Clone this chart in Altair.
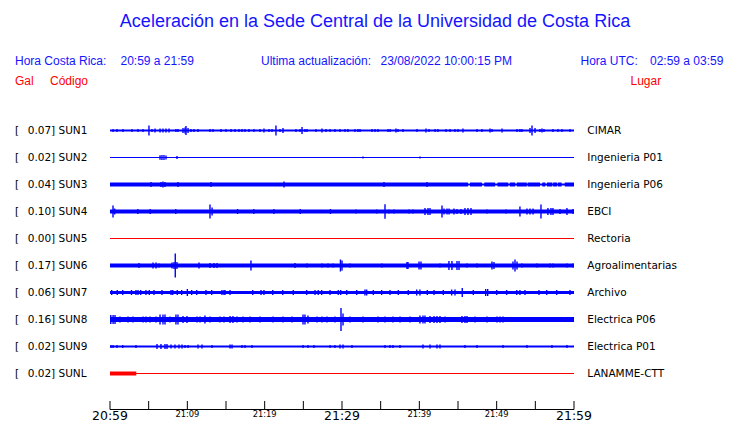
import altair as alt
import pandas as pd

# ---------------- data ----------------
stations = ["SUN1", "SUN2", "SUN3", "SUN4", "SUN5", "SUN6", "SUN7", "SUN8", "SUN9", "SUNL"]
peaks = ["0.07", "0.02", "0.04", "0.10", "0.00", "0.17", "0.06", "0.16", "0.02", "0.02"]
places = ["CIMAR", "Ingenieria P01", "Ingenieria P06", "EBCI", "Rectoria",
          "Agroalimentarias", "Archivo", "Electrica P06", "Electrica P01", "LANAMME-CTT"]
trace_color = ["blue", "blue", "blue", "blue", "red", "blue", "blue", "blue", "blue", "red"]

# background noise half-width of each trace (amplitude units)
noise = [1.0, 0.5, 1.0, 2.0, 0.5, 2.0, 1.5, 2.5, 1.0, 0.5]

# stronger-noise segments: (station, start minute, end minute, half-width)
segments = [
    ("SUN3", 0.0, 46.3, 2.0), ("SUN3", 46.55, 48.1, 2.0), ("SUN3", 48.4, 49.8, 2.0),
    ("SUN3", 50.1, 51.5, 2.0), ("SUN3", 51.7, 52.4, 2.0), ("SUN3", 52.6, 53.9, 2.0),
    ("SUN3", 54.0, 55.6, 2.0), ("SUN3", 55.9, 56.3, 2.0), ("SUN3", 56.5, 57.2, 2.0),
    ("SUN3", 57.3, 57.8, 2.0), ("SUN3", 57.9, 58.4, 2.0), ("SUN3", 58.8, 60.0, 2.0),
    ("SUNL", 0.0, 3.4, 2.0),
]

# peaks in each trace: minute after 20:59 and half amplitude
ev_sun1 = [(0.39, 1.5), (0.91, 1.5), (1.68, 1.5), (2.84, 1.5), (3.62, 1.5), (4.27, 1.5), (5.04, 5),
           (5.43, 1.5), (5.82, 2), (6.47, 2), (6.85, 2), (7.24, 2), (7.63, 2), (8.53, 1.5), (8.79, 1.5),
           (9.44, 2.5), (9.70, 3), (9.83, 4.5), (10.09, 2.5), (10.47, 1.5), (10.86, 1.5), (11.38, 1.5),
           (12.93, 1.5), (13.32, 1.5), (14.35, 1.5), (15.00, 1.5), (15.65, 1.5), (16.16, 1.5),
           (16.68, 1.5), (17.07, 1.5), (17.46, 1.5), (17.97, 1.5), (18.62, 1.5), (19.40, 1.5),
           (19.91, 2), (20.56, 1.5), (20.95, 1.5), (21.46, 5), (21.98, 1.5), (22.37, 2.5),
           (24.05, 1.5), (24.57, 1.5), (24.83, 3.5), (25.21, 1.5), (25.47, 1.5), (26.64, 1.5),
           (27.41, 2), (27.93, 1.5), (28.45, 1.5), (29.09, 1.5), (29.74, 1.5), (30.39, 1.5),
           (30.77, 1.5), (31.68, 1.5), (32.07, 1.5), (32.33, 1.5), (33.88, 1.5), (34.27, 1.5),
           (34.66, 1.5), (35.95, 1.5), (36.21, 1.5), (36.98, 2), (37.24, 1.5), (37.89, 1.5),
           (39.70, 1.5), (40.86, 2), (41.25, 1.5), (42.03, 1.5), (42.41, 1.5), (43.45, 1.5),
           (43.97, 1.5), (44.61, 1.5), (45.00, 1.5), (45.64, 2), (47.46, 1.5), (48.10, 1.5),
           (49.14, 2), (49.39, 1.5), (50.69, 2), (52.63, 1.5), (53.01, 1.5), (53.27, 1.5),
           (54.31, 2.5), (54.57, 5), (54.96, 2.5), (55.60, 1.5), (55.86, 2), (56.12, 1.5),
           (57.28, 1.5), (57.93, 1.5), (58.45, 1.5), (59.48, 1.5)]
ev_sun2 = [(6.47, 2.3), (6.72, 2.5), (6.98, 2.5), (7.24, 2), (8.66, 1.5), (32.71, 1), (40.08, 1)]
ev_sun3 = [(5.30, 2.5), (6.59, 2.5), (6.85, 3), (7.11, 2.5), (8.79, 2.5), (13.06, 2.5),
           (22.50, 3), (35.43, 2.5), (40.99, 2.5)]
ev_sun4 = [(0.39, 6), (0.6, 3), (3.6, 2.5), (5.2, 2.5), (8.5, 2.5), (12.93, 7), (13.2, 4),
           (16.5, 2.5), (18.6, 2.5), (21.2, 2.5), (24.6, 2.5), (28.5, 2.5), (31.8, 2), (34.5, 2),
           (35.56, 7.3), (36.08, 2), (36.73, 2), (38.66, 2), (39.18, 2), (40.73, 3.5), (41.12, 3.5),
           (41.38, 3.5), (42.93, 6), (43.19, 3), (43.58, 3), (43.84, 3), (44.48, 3), (44.87, 2.5),
           (45.39, 2.5), (45.90, 3.5), (46.29, 3.5), (46.68, 3.5), (48.75, 2), (51.20, 2),
           (53.01, 5), (53.92, 3), (54.31, 3), (54.70, 3), (55.73, 7), (56.63, 3.5), (57.02, 3.5),
           (57.28, 3.5), (58.19, 2.5), (59.09, 3.5), (59.87, 2.5)]
ev_sun5 = []
ev_sun6 = [(3.75, 2.5), (5.56, 3), (5.95, 3), (6.34, 2), (8.02, 3), (8.28, 3.5), (8.44, 12),
           (8.66, 3.5), (11.51, 3), (12.93, 2.5), (13.45, 2.5), (13.84, 2.5), (18.23, 5),
           (23.92, 2.5), (25.47, 2), (27.41, 2), (28.19, 2), (28.84, 2), (29.80, 6), (30.0, 5),
           (31.03, 2), (35.17, 2), (38.40, 3.5), (38.53, 3.5), (39.96, 4), (40.21, 4), (42.67, 2),
           (43.83, 4.5), (44.22, 4.5), (44.87, 4.5), (45.13, 4.5), (46.16, 2), (47.46, 2),
           (49.39, 4), (49.65, 3.5), (52.11, 4), (52.37, 6), (52.63, 4), (53.27, 2), (55.21, 2),
           (56.90, 2), (57.28, 2), (59.09, 2), (59.87, 2)]
ev_sun7 = [(0.22, 2.5), (0.94, 2.5), (1.64, 2.5), (2.78, 2.5), (3.36, 2.5), (3.62, 2.5),
           (3.97, 2.5), (4.65, 2.5), (5.08, 2.5), (5.69, 2.5), (6.72, 2.5), (7.89, 2.5),
           (8.11, 2.5), (8.70, 2.5), (9.27, 2.5), (10.00, 3.5), (10.56, 2.5), (11.21, 2.5),
           (12.41, 2.5), (13.15, 2.5), (14.48, 2.5), (14.74, 2.5), (14.87, 2.5), (15.52, 2.5),
           (18.45, 2.5), (19.53, 2.5), (19.91, 2.5), (21.04, 2.5), (22.33, 2.5), (23.70, 2.5),
           (25.43, 2.5), (26.51, 2.5), (26.93, 2.5), (27.37, 2.5), (28.45, 2.5), (29.52, 2.5),
           (29.83, 2.5), (30.61, 2.5), (31.90, 2.5), (32.97, 3), (33.19, 3), (34.05, 2.5),
           (35.13, 2.5), (36.21, 2.5), (37.28, 2.5), (38.57, 2.5), (39.66, 3), (40.08, 3),
           (41.03, 2.5), (41.90, 2.5), (43.10, 2.5), (44.18, 3), (44.61, 3), (45.55, 4.5),
           (46.98, 2.5), (48.58, 3.5), (48.84, 3.5), (50.00, 2.5), (51.29, 2.5), (52.59, 2.5),
           (53.01, 2.5), (53.66, 2.5), (55.47, 2.5), (56.47, 2.5), (57.76, 2.5), (59.48, 2.5)]
ev_sun8 = [(0.1, 4.5), (0.4, 4.5), (0.65, 4.5), (1.29, 3), (2.33, 3), (2.97, 3), (4.27, 3),
           (4.65, 3), (5.17, 3), (5.95, 3), (6.47, 5), (6.85, 5), (7.11, 5), (7.76, 3), (8.53, 5),
           (8.79, 5), (9.44, 3.5), (9.96, 3.5), (11.25, 3), (11.64, 3), (12.28, 4), (12.93, 3),
           (14.22, 3), (14.74, 3), (15.52, 3.5), (15.90, 3.5), (16.42, 3), (17.20, 3), (18.10, 3),
           (19.40, 3), (21.08, 3), (22.37, 3), (23.53, 3), (24.96, 5), (25.21, 5), (25.60, 4),
           (26.77, 3), (27.41, 3), (28.06, 3), (29.09, 3), (29.87, 11.5), (30.13, 6), (31.03, 3),
           (32.71, 3), (34.66, 3), (35.56, 3), (36.59, 3), (37.50, 3), (38.79, 3), (40.08, 4),
           (40.47, 4), (40.73, 4), (41.38, 3.5), (41.90, 3.5), (42.28, 3.5), (42.67, 3.5),
           (43.32, 3), (45.51, 3.5), (45.90, 3.5), (46.16, 3.5), (47.20, 3), (48.75, 3),
           (50.04, 3), (50.43, 3), (50.82, 3)]
ev_sun9 = [(0.13, 1.5), (0.39, 1.5), (0.91, 1.5), (1.64, 1.5), (3.36, 1.5), (6.08, 2.5),
           (6.59, 2.5), (7.11, 2.5), (7.37, 2.5), (7.89, 2), (8.40, 2), (8.92, 2), (9.31, 2),
           (9.70, 1.5), (10.09, 1.5), (11.38, 2), (11.90, 2), (13.19, 1.5), (15.52, 2),
           (15.78, 2), (17.07, 1.5), (17.46, 1.5), (18.36, 1.5), (24.96, 1.5), (25.60, 1.5),
           (26.38, 1.5), (28.45, 1.5), (29.09, 1.5), (29.74, 2), (30.13, 2), (31.29, 1.5),
           (35.56, 1.5), (36.21, 1.5), (36.59, 1.5), (37.50, 1.5), (40.47, 2), (41.38, 2),
           (42.28, 2), (42.67, 2), (45.90, 1.5), (47.46, 1.5), (50.82, 1.5), (53.92, 1.5),
           (57.15, 1.5), (59.09, 1.5)]
ev_sunl = []
events = [ev_sun1, ev_sun2, ev_sun3, ev_sun4, ev_sun5, ev_sun6, ev_sun7, ev_sun8, ev_sun9, ev_sunl]

tick_minutes = [0, 5, 10, 15, 20, 25, 30, 35, 40, 45, 50, 55, 60]
big_ticks = [0, 30, 60]
big_labels = ["20:59", "21:29", "21:59"]
small_ticks = [10, 20, 40, 50]
small_labels = ["21:09", "21:19", "21:39", "21:49"]

title = "Aceleración en la Sede Central de la Universidad de Costa Rica"

# ---------------- tables ----------------
ROW = 27  # amplitude units between neighbouring traces
COLORS = {"blue": "#0000ff", "red": "#ff0000"}

band_rows = []
for i, s in enumerate(stations):
    band_rows.append({"st": s, "start": 0.0, "end": 60.0,
                      "lo": i * ROW - noise[i], "hi": i * ROW + noise[i],
                      "c": COLORS[trace_color[i]]})
for s, a, b, h in segments:
    i = stations.index(s)
    band_rows.append({"st": s, "start": a, "end": b, "lo": i * ROW - h, "hi": i * ROW + h,
                      "c": COLORS[trace_color[i]]})
bands = pd.DataFrame(band_rows)

spk_rows = []
for i, evs in enumerate(events):
    for m, a in evs:
        spk_rows.append({"m": m, "lo": i * ROW - a, "hi": i * ROW + a, "c": COLORS[trace_color[i]]})
spikes = pd.DataFrame(spk_rows)

rows = pd.DataFrame({"y": [i * ROW for i in range(len(stations))],
                     "left": [f"{p}] {s}" for p, s in zip(peaks, stations)],
                     "place": places})

xs = alt.Scale(domain=[0, 60], range=[102, 566])
ys = alt.Scale(domain=[0, 9 * ROW], range=[122.5, 365.5])
X = lambda f: alt.X(f, type="quantitative", scale=xs, axis=None)
Y = lambda f: alt.Y(f, type="quantitative", scale=ys, axis=None)

band_layer = alt.Chart(bands).mark_rect().encode(
    x=X("start"), x2="end", y=Y("lo"), y2="hi", color=alt.Color("c:N", scale=None))
spike_layer = alt.Chart(spikes).mark_rule(strokeWidth=1.4).encode(
    x=X("m"), y=Y("lo"), y2="hi", color=alt.Color("c:N", scale=None))

txt = dict(align="left", baseline="middle", font="DejaVu Sans", fontSize=10.5, color="black", dy=0.5)
left_br = alt.Chart(rows).mark_text(**txt).encode(x=alt.value(7), y=Y("y"), text=alt.value("["))
left_txt = alt.Chart(rows).mark_text(**txt).encode(x=alt.value(19.7), y=Y("y"), text="left:N")
right_txt = alt.Chart(rows).mark_text(**txt).encode(x=alt.value(579.3), y=Y("y"), text="place:N")

ticks_df = pd.DataFrame({"m": tick_minutes})
axis_line = alt.Chart(pd.DataFrame({"a": [0], "b": [60]})).mark_rule(color="black", strokeWidth=1).encode(
    x=X("a"), x2="b", y=alt.value(401.5))
tick_layer = alt.Chart(ticks_df).mark_rule(color="black", strokeWidth=1).encode(
    x=X("m"), y=alt.value(393), y2=alt.value(401.5))
big_lab = alt.Chart(pd.DataFrame({"m": big_ticks, "t": big_labels})).mark_text(
    baseline="middle", font="DejaVu Sans", fontSize=12.5, color="black").encode(
    x=X("m"), y=alt.value(408), text="t:N")
small_lab = alt.Chart(pd.DataFrame({"m": small_ticks, "t": small_labels})).mark_text(
    baseline="middle", font="DejaVu Sans", fontSize=8.3, color="black").encode(
    x=X("m"), y=alt.value(406.5), text="t:N")


def label(text, x, y, color, size, font="Liberation Sans", align="left"):
    return alt.Chart(pd.DataFrame({"t": [text]})).mark_text(
        align=align, baseline="middle", font=font, fontSize=size, color=color).encode(
        x=alt.value(x), y=alt.value(y), text="t:N")


BLUE = "#1414ff"
header = [
    label(title, 367, 14, BLUE, 18, align="center"),
    label("Hora Costa Rica:", 7, 53, BLUE, 12),
    label("20:59 a 21:59", 112.5, 53, BLUE, 12),
    label("Ultima actualización:", 253, 53, BLUE, 12),
    label("23/08/2022 10:00:15 PM", 372.5, 53, BLUE, 12),
    label("Hora UTC:", 572.5, 53, BLUE, 12),
    label("02:59 a 03:59", 642, 53, BLUE, 12),
    label("Gal", 7, 73, "#ff0000", 12),
    label("Código", 42, 73, "#ff0000", 12),
    label("Lugar", 622.5, 73, "#ff0000", 12),
]

chart = alt.layer(band_layer, spike_layer, left_br, left_txt, right_txt,
                  axis_line, tick_layer, big_lab, small_lab, *header).properties(
    width=724, height=401,
    autosize=alt.AutoSizeParams(type="none"),
    padding={"left": 0, "top": 0, "right": 0, "bottom": 14},
).configure_view(stroke=None)

chart.save("out.html", embed_options={"renderer": "svg", "actions": False})
